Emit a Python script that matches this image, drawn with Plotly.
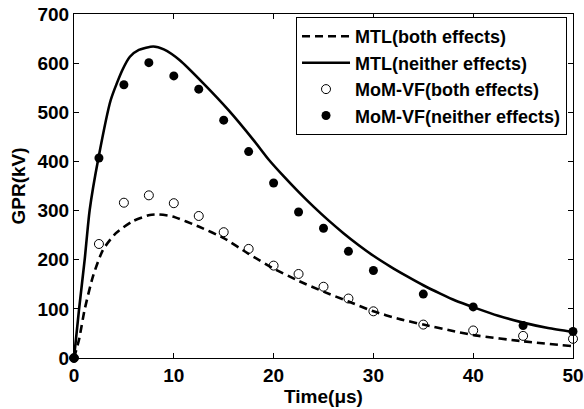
import plotly.graph_objects as go

# MTL (both effects) - dashed curve
t_mtl_both = [0, 0.5, 1.06, 1.9, 2.9, 4.2, 5.86, 7.6, 8.5, 9.87, 12.55, 15, 17.5, 20,
              22.5, 25, 27.5, 30, 32.5, 35, 38.2, 40.2, 45, 50]
v_mtl_both = [0, 37, 98, 166, 220, 254, 278, 291, 292, 288, 267, 244, 212, 182,
              157, 135, 115, 95, 80, 68, 54, 46, 34, 24]

# MTL (neither effects) - solid curve
t_mtl_neither = [0, 0.5, 1.07, 1.57, 2.44, 3.68, 4.85, 5.6, 6.5, 7.95, 9, 10.6, 12.96,
                 15.46, 17.97, 19.5, 21, 22.5, 24, 25.5, 27, 28.5, 30, 31.7, 33.3, 35,
                 36.7, 38.2, 40.2, 42.5, 45, 47.5, 50]
v_mtl_neither = [0, 98, 200, 301, 406, 525, 586, 613, 627, 634, 628, 606, 559,
                 505, 444, 404, 370, 338, 308, 280, 254, 230, 208, 186, 167, 148,
                 131, 117, 102, 86, 72, 61, 53]

# MoM-VF points
t_mom = [0, 2.5, 5, 7.5, 10, 12.5, 15, 17.5, 20, 22.5, 25, 27.5, 30, 35, 40, 45, 50]
v_mom_both = [0, 232, 316, 331, 315, 289, 256, 222, 188, 171, 145, 121, 95, 68, 56, 45, 39]
v_mom_neither = [0, 407, 556, 601, 574, 547, 484, 420, 356, 297, 264, 217, 178, 130, 104, 66, 54]

x_ticks = [0, 10, 20, 30, 40, 50]
y_ticks = [0, 100, 200, 300, 400, 500, 600, 700]

FONT = "Liberation Sans, Arial, sans-serif"
FS = 19

fig = go.Figure()
fig.add_trace(go.Scatter(x=t_mtl_both, y=v_mtl_both, mode="lines",
                         name="MTL(both effects)",
                         line=dict(color="black", width=2.6, dash="8px,5px", shape="spline", smoothing=0.6),
                         cliponaxis=False))
fig.add_trace(go.Scatter(x=t_mtl_neither, y=v_mtl_neither, mode="lines",
                         name="MTL(neither effects)",
                         line=dict(color="black", width=2.6, shape="spline", smoothing=0.6),
                         cliponaxis=False))
fig.add_trace(go.Scatter(x=t_mom, y=v_mom_both, mode="markers",
                         name="MoM-VF(both effects)",
                         marker=dict(symbol="circle-open", size=9, color="black", line=dict(width=1)),
                         cliponaxis=False))
fig.add_trace(go.Scatter(x=t_mom, y=v_mom_neither, mode="markers",
                         name="MoM-VF(neither effects)",
                         marker=dict(symbol="circle", size=9, color="black"),
                         cliponaxis=False))

axis_common = dict(showline=True, linecolor="black", linewidth=1, mirror="ticks",
                   ticks="inside", ticklen=5, tickcolor="black", tickwidth=1,
                   showgrid=False, zeroline=False, automargin=False,
                   tickfont=dict(family=FONT, size=FS, color="black", weight="bold"))

fig.update_layout(
    width=584, height=409,
    margin=dict(l=74, r=11, t=14, b=51),
    paper_bgcolor="white", plot_bgcolor="white",
    font=dict(family=FONT, color="black"),
    xaxis=dict(range=[0, 50], tickvals=x_ticks,
               title=dict(text="Time(μs)", standoff=2,
                          font=dict(family=FONT, size=FS, color="black", weight="bold")),
               **axis_common),
    yaxis=dict(range=[0, 700], tickvals=y_ticks,
               title=dict(text="GPR(kV)", standoff=6,
                          font=dict(family=FONT, size=FS, color="black", weight="bold")),
               **axis_common),
    legend=dict(x=0.988, y=0.991, xanchor="right", yanchor="top",
                bgcolor="white", bordercolor="black", borderwidth=1,
                font=dict(family=FONT, size=18, color="black", weight="bold"),
                tracegroupgap=0, itemwidth=48),
    showlegend=True,
)

fig.write_html("out.html", config={"displayModeBar": False},
               post_script="document.body.style.margin='0';document.body.style.overflow='hidden';")
